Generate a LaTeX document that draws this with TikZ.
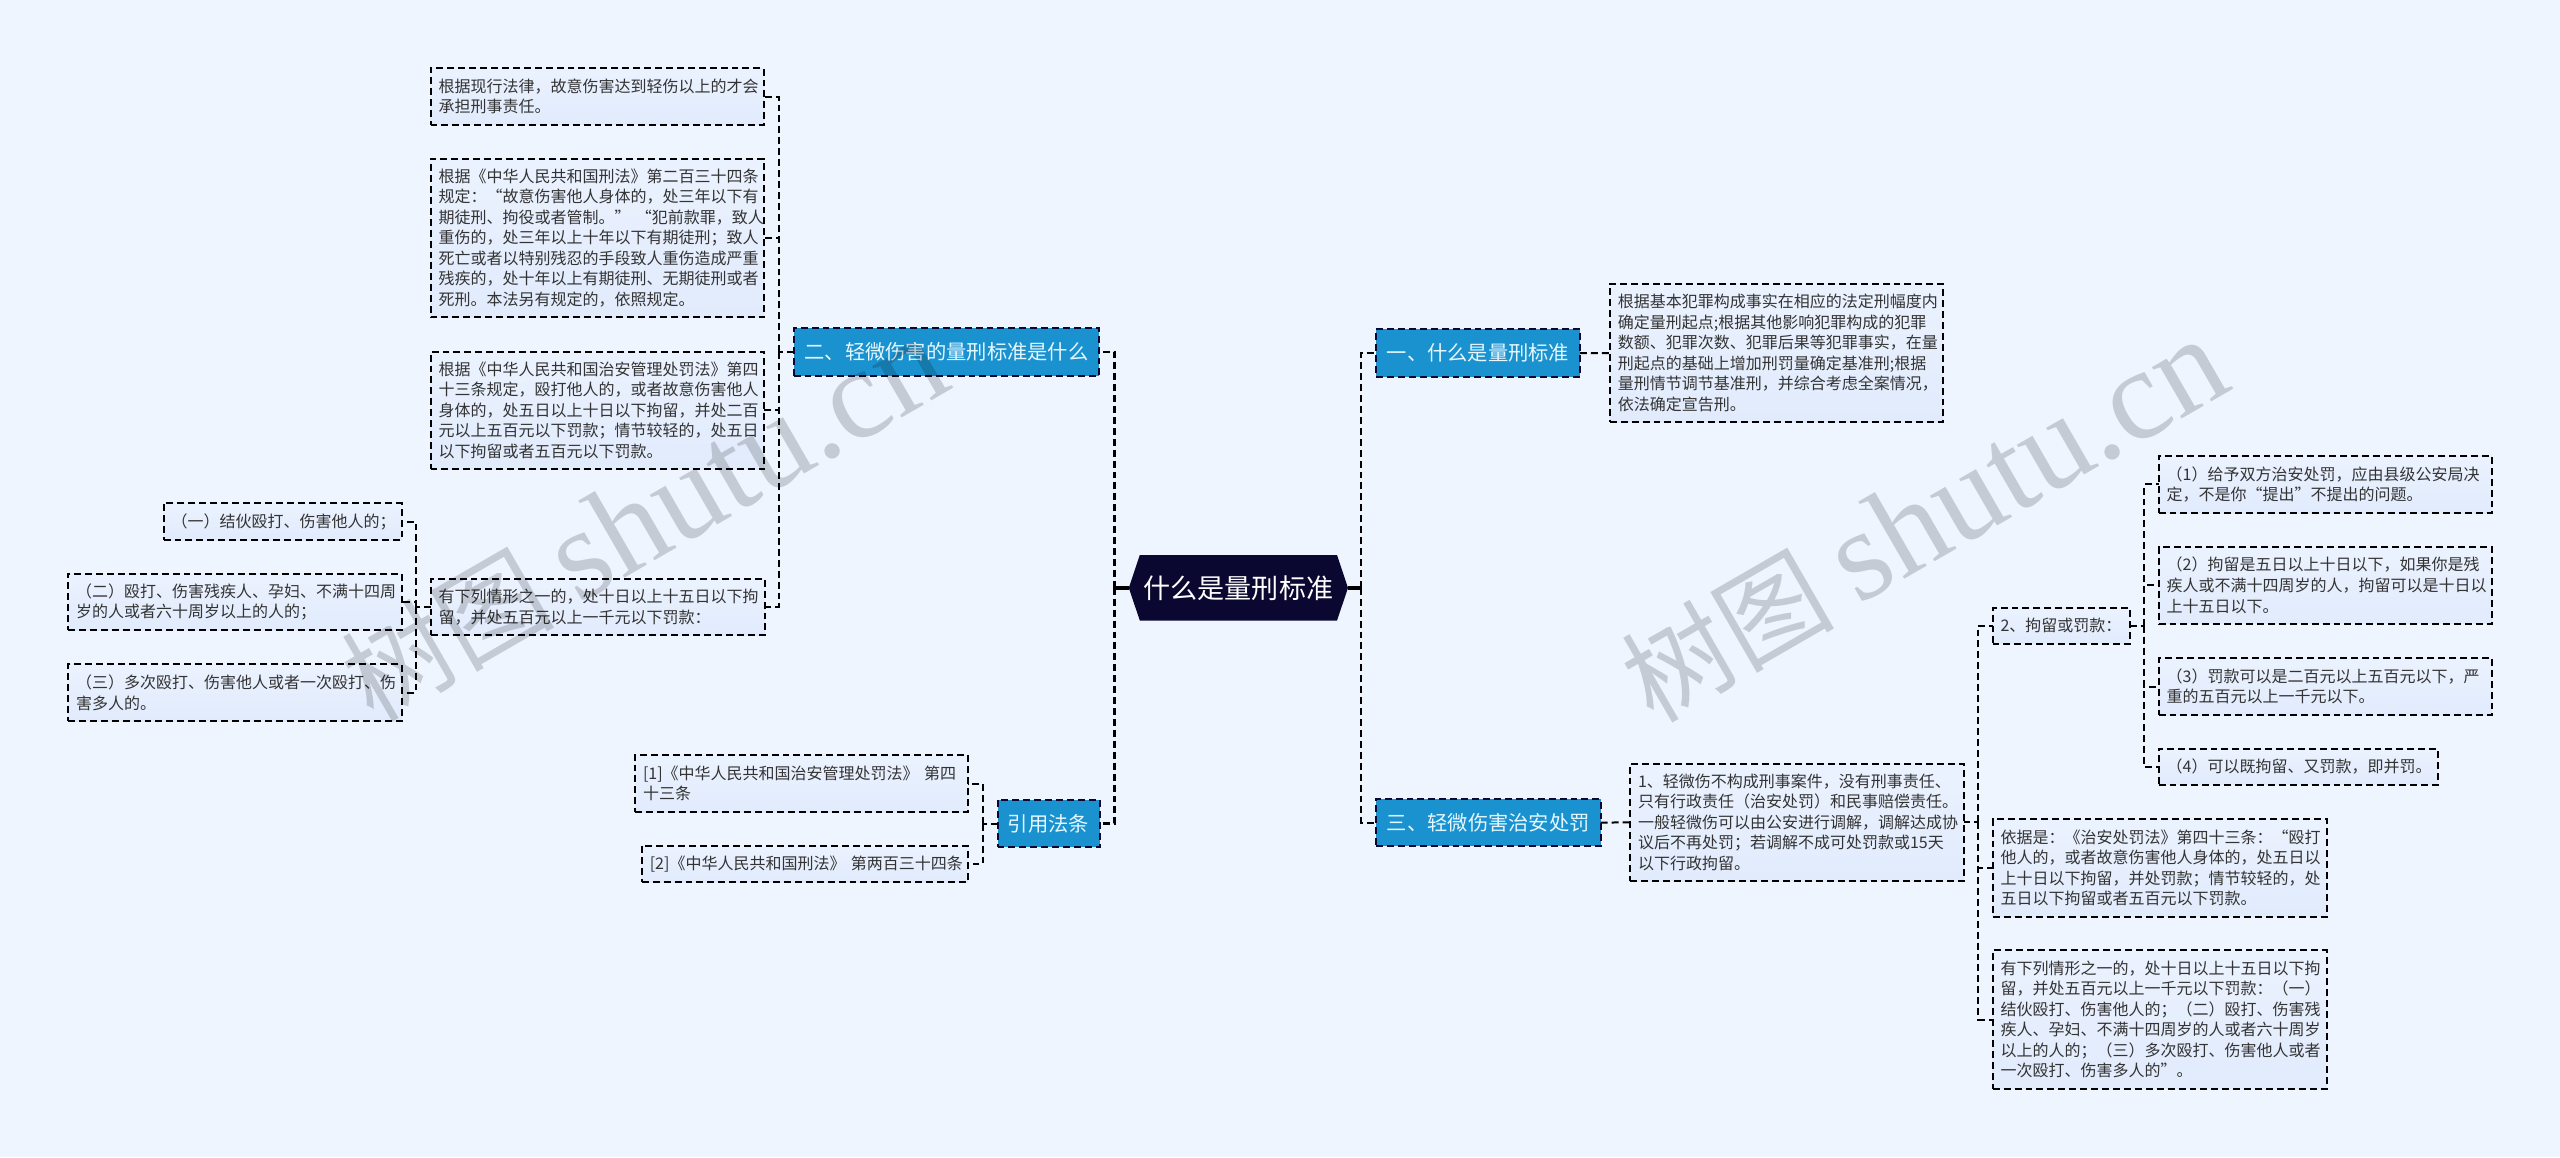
\documentclass[tikz,border=0pt]{standalone}
\usepackage{fontspec}
\usetikzlibrary{calc}
\setmainfont{Noto Sans CJK SC}
\newfontfamily\wmlatin{Liberation Serif}
\definecolor{bgc}{HTML}{EEF5FF}
\definecolor{boxa}{HTML}{EBF2FF}
\definecolor{boxb}{HTML}{E1EBFC}
\definecolor{bluec}{HTML}{1B92D0}
\definecolor{rootc}{HTML}{0A0830}
\definecolor{txt}{HTML}{333333}
\definecolor{titl}{HTML}{E6F8FF}
\tikzset{
  x=0.75pt,y=-0.75pt,
  linkline/.style={draw=black,line width=1.5pt,dash pattern=on 5.2pt off 3pt},
  trunkline/.style={draw=black,line width=2.2pt,dash pattern=on 5.2pt off 3pt},
  rootline/.style={draw=black,line width=2.6pt},
  leafbox/.style={draw=black,line width=1.5pt,dash pattern=on 5.2pt off 3pt,top color=boxa,bottom color=boxb,
    inner sep=0pt,outer sep=0pt,align=left,text=txt,font=\fontsize{12}{15.4}\selectfont},
  topicbox/.style={draw=rootc,line width=1.5pt,dash pattern=on 5.2pt off 3pt,fill=bluec,
    inner sep=0pt,outer sep=0pt,align=center,text=titl,font=\fontsize{15.2}{18}\selectfont},
  rootbox/.style={inner sep=0pt,outer sep=0pt,align=center,text=white,font=\fontsize{20.3}{24}\selectfont},
  wmark/.style={inner sep=0pt,text=black,text opacity=0.17,rotate=30,font=\fontsize{80}{100}\selectfont},
}
% name, x1, y1, x2, y2, style, text
\newcommand{\bx}[7]{%
  \pgfmathsetmacro{\cxx}{(#2+#4)/2}\pgfmathsetmacro{\cyy}{(#3+#5)/2}%
  \pgfmathsetmacro{\wdd}{(#4-#2)*0.75}\pgfmathsetmacro{\htt}{(#5-#3)*0.75}%
  \pgfmathsetmacro{\twd}{(#4-#2-16)*0.75}%
  \node[#6,minimum width=\wdd pt,minimum height=\htt pt,text width=\twd pt] (#1) at (\cxx,\cyy) {#7};%
}
\begin{document}
\begin{tikzpicture}
\fill[bgc] (0,0) rectangle (2560,1157);
\useasboundingbox (0,0) rectangle (2560,1157);
% trunk coordinates
\coordinate (tl) at (1114.4,0);
\coordinate (tr) at (1361.3,0);
\coordinate (ta) at (778.6,0);
\coordinate (tb) at (416,0);
\coordinate (te) at (982.9,0);
\coordinate (tf) at (2144,0);
\coordinate (th) at (1978,0);
% nodes
\node[rootbox,minimum width=164.4pt,minimum height=49.2pt] (root) at (1238.4,587.8) {};
\fill[rootc] (root.west) -- ($(root.north west)+(11,0)$) -- ($(root.north east)+(-11,0)$) -- (root.east) -- ($(root.south east)+(-11,0)$) -- ($(root.south west)+(11,0)$) -- cycle;
\node[rootbox] (roottext) at (root.center) {什么是量刑标准};
\node[topicbox,minimum width=229.4pt,minimum height=35.5pt] (n2) at (946.5,352) {二、轻微伤害的量刑标准是什么};
\node[topicbox,minimum width=153pt,minimum height=35.5pt] (n1) at (1478,353) {一、什么是量刑标准};
\node[topicbox,minimum width=168.5pt,minimum height=35.5pt] (n3) at (1488.3,822.6) {三、轻微伤害治安处罚};
\node[topicbox,minimum width=76.5pt,minimum height=35.5pt] (n4) at (1048.5,823.7) {引用法条};
\bx{a1}{430.5}{68.3}{764}{124.7}{leafbox}{根据现行法律，故意伤害达到轻伤以上的才会\\承担刑事责任。}
\bx{a2}{430.5}{158.7}{764}{317.3}{leafbox}{根据《中华人民共和国刑法》第二百三十四条\\规定：“故意伤害他人身体的，处三年以下有\\期徒刑、拘役或者管制。”~“犯前款罪，致人\\重伤的，处三年以上十年以下有期徒刑；致人\\死亡或者以特别残忍的手段致人重伤造成严重\\残疾的，处十年以上有期徒刑、无期徒刑或者\\死刑。本法另有规定的，依照规定。}
\bx{a3}{430.5}{351.7}{764}{469}{leafbox}{根据《中华人民共和国治安管理处罚法》第四\\十三条规定，殴打他人的，或者故意伤害他人\\身体的，处五日以上十日以下拘留，并处二百\\元以上五百元以下罚款；情节较轻的，处五日\\以下拘留或者五百元以下罚款。}
\bx{a4}{430.7}{578.7}{764.7}{635.3}{leafbox}{有下列情形之一的，处十日以上十五日以下拘\\留，并处五百元以上一千元以下罚款：}
\bx{b1}{163.6}{503.3}{401.6}{540}{leafbox}{（一）结伙殴打、伤害他人的；}
\bx{b2}{68}{573.7}{401.6}{630.3}{leafbox}{（二）殴打、伤害残疾人、孕妇、不满十四周\\岁的人或者六十周岁以上的人的；}
\bx{b3}{68}{664.3}{401.6}{721}{leafbox}{（三）多次殴打、伤害他人或者一次殴打、伤\\害多人的。}
\bx{e1}{635}{755}{968}{812}{leafbox}{[1]《中华人民共和国治安管理处罚法》~第四\\十三条}
\bx{e2}{641.8}{846}{968}{882}{leafbox}{[2]《中华人民共和国刑法》~第两百三十四条}
\bx{c1}{1609.8}{283.8}{1942.8}{422.3}{leafbox}{根据基本犯罪构成事实在相应的法定刑幅度内\\确定量刑起点;根据其他影响犯罪构成的犯罪\\数额、犯罪次数、犯罪后果等犯罪事实，在量\\刑起点的基础上增加刑罚量确定基准刑;根据\\量刑情节调节基准刑，并综合考虑全案情况，\\依法确定宣告刑。}
\bx{d1}{1630}{763.7}{1963.5}{881}{leafbox}{1、轻微伤不构成刑事案件，没有刑事责任、\\只有行政责任（治安处罚）和民事赔偿责任。\\一般轻微伤可以由公安进行调解，调解达成协\\议后不再处罚；若调解不成可处罚款或15天\\以下行政拘留。}
\bx{g1}{1992.5}{607.7}{2129.6}{643.7}{leafbox}{2、拘留或罚款：}
\bx{f1}{2158.6}{455.7}{2492}{513}{leafbox}{（1）给予双方治安处罚，应由县级公安局决\\定，不是你“提出”不提出的问题。}
\bx{f2}{2158.6}{547}{2492}{623.7}{leafbox}{（2）拘留是五日以上十日以下，如果你是残\\疾人或不满十四周岁的人，拘留可以是十日以\\上十五日以下。}
\bx{f3}{2158.6}{658}{2492}{715}{leafbox}{（3）罚款可以是二百元以上五百元以下，严\\重的五百元以上一千元以下。}
\bx{f4}{2158.6}{748.7}{2437.9}{784.7}{leafbox}{（4）可以既拘留、又罚款，即并罚。}
\bx{i1}{1992.7}{819}{2326.7}{916.7}{leafbox}{依据是：《治安处罚法》第四十三条：“殴打\\他人的，或者故意伤害他人身体的，处五日以\\上十日以下拘留，并处罚款；情节较轻的，处\\五日以下拘留或者五百元以下罚款。}
\bx{i2}{1992.7}{950.3}{2326.7}{1088.7}{leafbox}{有下列情形之一的，处十日以上十五日以下拘\\留，并处五百元以上一千元以下罚款：（一）\\结伙殴打、伤害他人的；（二）殴打、伤害残\\疾人、孕妇、不满十四周岁的人或者六十周岁\\以上的人的；（三）多次殴打、伤害他人或者\\一次殴打、伤害多人的”。}
% connectors
\draw[rootline] (root.west) -- (root.west -| tl);
\draw[rootline] (root.east) -- (root.east -| tr);
\draw[trunkline] (root.west -| tl) |- (n2.east);
\draw[trunkline] (root.west -| tl) |- (n4.east);
\draw[linkline] (root.east -| tr) |- (n1.west);
\draw[linkline] (root.east -| tr) |- (n3.west);
\draw[linkline] (n1.east) -- (c1.west);
\draw[linkline] (n3.east) -- (d1.west);
\draw[linkline] (n2.west) -- (n2.west -| ta);
\draw[linkline] (n2.west -| ta) |- (a1.east);
\draw[linkline] (n2.west -| ta) |- (a2.east);
\draw[linkline] (n2.west -| ta) |- (a3.east);
\draw[linkline] (n2.west -| ta) |- (a4.east);
\draw[linkline] (a4.west) -- (a4.west -| tb);
\draw[linkline] (a4.west -| tb) |- (b1.east);
\draw[linkline] (a4.west -| tb) |- (b2.east);
\draw[linkline] (a4.west -| tb) |- (b3.east);
\draw[linkline] (n4.west) -- (n4.west -| te);
\draw[linkline] (n4.west -| te) |- (e1.east);
\draw[linkline] (n4.west -| te) |- (e2.east);
\draw[linkline] (d1.east) -- (d1.east -| th);
\draw[linkline] (d1.east -| th) |- (g1.west);
\draw[linkline] (d1.east -| th) |- (i1.west);
\draw[linkline] (d1.east -| th) |- (i2.west);
\draw[linkline] (g1.east) -- (g1.east -| tf);
\draw[linkline] (g1.east -| tf) |- (f1.west);
\draw[linkline] (g1.east -| tf) |- (f2.west);
\draw[linkline] (g1.east -| tf) |- (f3.west);
\draw[linkline] (g1.east -| tf) |- (f4.west);
% watermarks
\node[wmark] (wm1) at (644,520) {树图 {\wmlatin\fontsize{97}{100}\selectfont shutu.cn}};
\node[wmark] (wm2) at (1924,521) {树图 {\wmlatin\fontsize{97}{100}\selectfont shutu.cn}};
\end{tikzpicture}
\end{document}
